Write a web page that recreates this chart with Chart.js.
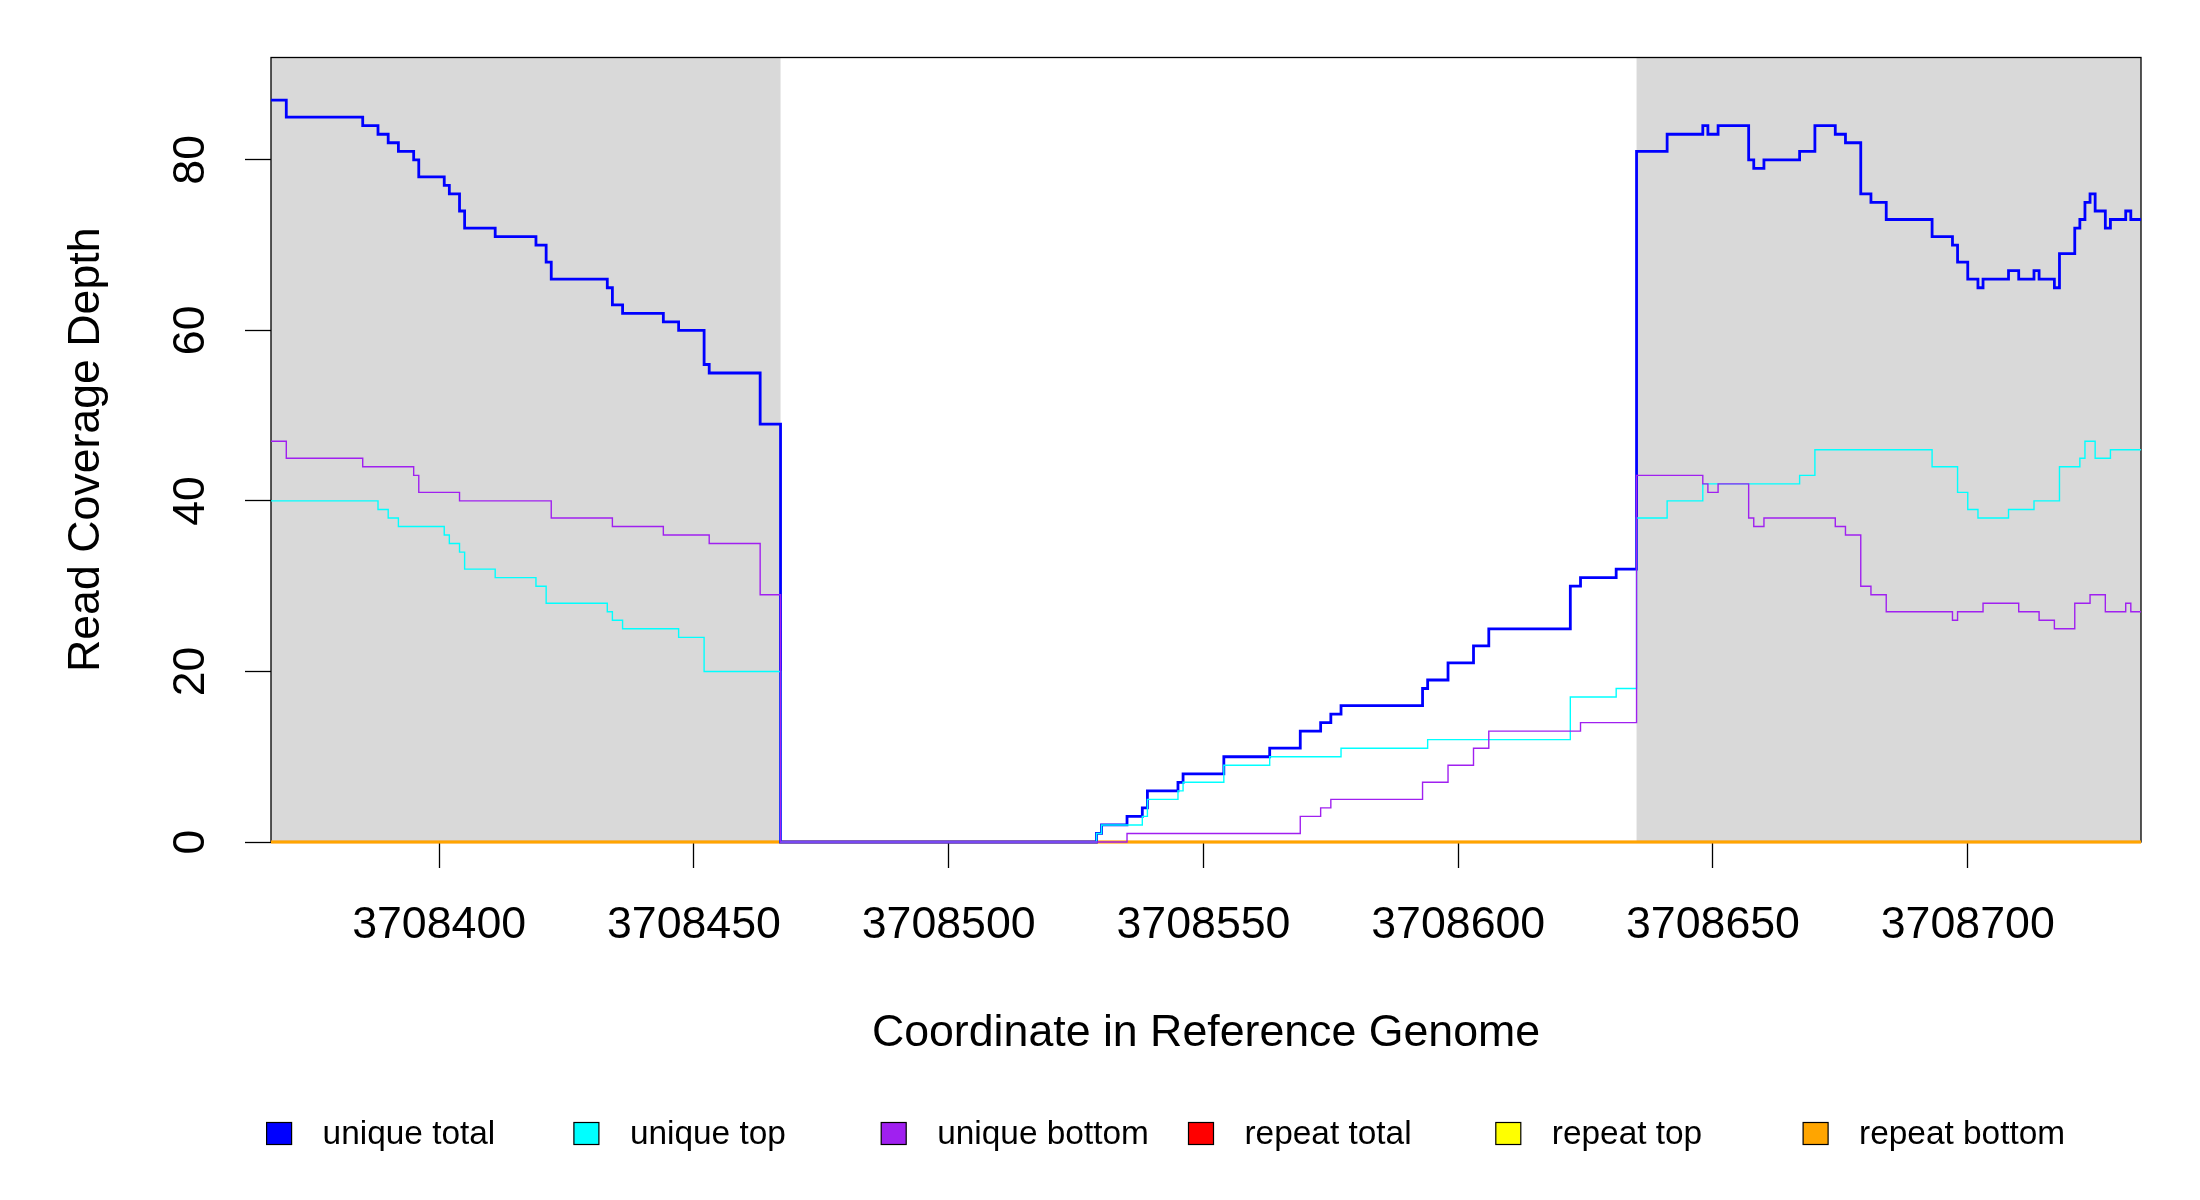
<!DOCTYPE html>
<html>
<head>
<meta charset="utf-8">
<script src="https://cdn.jsdelivr.net/npm/chart.js@4.4.1/dist/chart.umd.min.js"></script>
<style>
html,body{margin:0;padding:0;background:#fff;overflow:hidden}
#wrap{width:2200px;height:1200px;position:relative}
</style>
</head>
<body>
<div id="wrap"><canvas id="c"></canvas></div>
<script>
// ---- data (step breakpoints: value holds from position until next position) ----
const seriesLabels = ['unique total', 'unique top', 'unique bottom', 'repeat total', 'repeat top', 'repeat bottom'];

const uniqueTotalPos = [3708367,3708370,3708385,3708388,3708390,3708392,3708395,3708396,3708401,3708402,
  3708404,3708405,3708411,3708419,3708421,3708422,3708433,3708434,3708436,3708444,
  3708447,3708452,3708453,3708463,3708467,
  3708529,3708530,3708535,3708538,3708539,3708545,3708546,3708554,3708563,3708569,
  3708573,3708575,3708577,3708593,3708594,3708598,3708603,3708606,3708622,3708624,3708631,
  3708635,3708641,3708648,3708649,3708651,3708657,3708658,3708660,3708667,3708670,
  3708674,3708676,3708679,3708681,3708684,3708693,3708697,3708698,3708700,3708702,
  3708703,3708708,3708710,3708713,3708714,3708717,3708718,3708721,3708722,3708723,
  3708724,3708725,3708727,3708728,3708731,3708732,3708734];
const uniqueTotalVal = [87,85,84,83,82,81,80,78,77,76,
  74,72,71,70,68,66,65,63,62,61,
  60,56,55,49,0,
  1,2,3,4,6,7,8,10,11,13,
  14,15,16,18,19,21,23,25,30,31,32,
  81,83,84,83,84,80,79,80,81,84,
  83,82,76,75,73,71,70,68,66,65,
  66,67,66,67,66,65,69,72,73,75,
  76,74,72,73,74,73,73];

const uniqueTopPos = [3708367,3708388,3708390,3708392,3708401,3708402,3708404,3708405,3708411,3708419,
  3708421,3708433,3708434,3708436,3708447,3708452,3708467,
  3708529,3708530,3708538,3708539,3708545,3708546,3708554,3708563,3708577,3708594,
  3708622,3708631,
  3708635,3708641,3708648,3708667,3708670,3708693,3708698,3708700,3708702,3708708,
  3708713,3708718,3708722,3708723,3708725,3708728,3708734];
const uniqueTopVal = [40,39,38,37,36,35,34,32,31,30,
  28,27,26,25,24,20,0,
  1,2,3,5,6,7,9,10,11,12,
  17,18,
  38,40,42,43,46,44,41,39,38,39,
  40,44,45,47,45,46,46];

const uniqueBottomPos = [3708367,3708370,3708385,3708395,3708396,3708404,3708422,3708434,3708444,3708453,
  3708463,3708467,
  3708535,3708569,3708573,3708575,3708593,3708598,3708603,3708606,3708624,
  3708635,3708648,3708649,3708651,3708657,3708658,3708660,3708674,3708676,3708679,
  3708681,3708684,3708697,3708698,3708703,3708710,3708714,3708717,3708721,3708724,
  3708727,3708731,3708732,3708734];
const uniqueBottomVal = [47,45,44,43,41,40,38,37,36,35,
  29,0,
  1,3,4,5,7,9,11,13,14,
  43,42,41,42,38,37,38,37,36,30,
  29,27,26,27,28,27,26,25,28,29,
  27,28,27,27];

const repeatTotalPos = [3708367, 3708734];
const repeatTotalVal = [0, 0];
const repeatTopPos = [3708367, 3708734];
const repeatTopVal = [0, 0];
const repeatBottomPos = [3708367, 3708734];
const repeatBottomVal = [0, 0];

const shadedRegions = [[3708367, 3708467], [3708635, 3708734]];
const xRange = [3708367, 3708734];
const yRange = [0, 92];
const xTickValues = [3708400, 3708450, 3708500, 3708550, 3708600, 3708650, 3708700];
const yTickValues = [0, 20, 40, 60, 80];

// ---- chart ----
const FONT = '"Liberation Sans", Arial, Helvetica, sans-serif';
Chart.defaults.font.family = FONT;
Chart.defaults.color = '#000';

function pts(pos, val) { return pos.map((p, i) => ({x: p, y: val[i]})); }

function ds(label, data, color, width, order) {
  return {label, data, borderColor: color, backgroundColor: color, borderWidth: width,
    stepped: true, pointRadius: 0, pointHoverRadius: 0, fill: false, tension: 0, order, clip: 4};
}

const datasets = [
  ds(seriesLabels[0], pts(uniqueTotalPos, uniqueTotalVal), '#0000FF', 2.8, 2),
  ds(seriesLabels[1], pts(uniqueTopPos, uniqueTopVal), '#00FFFF', 1.4, 1),
  ds(seriesLabels[2], pts(uniqueBottomPos, uniqueBottomVal), '#A020F0', 1.4, 0),
  ds(seriesLabels[3], pts(repeatTotalPos, repeatTotalVal), '#FF0000', 2.6, 5),
  ds(seriesLabels[4], pts(repeatTopPos, repeatTopVal), '#FFFF00', 2.6, 4),
  ds(seriesLabels[5], pts(repeatBottomPos, repeatBottomVal), '#FFA500', 2.6, 3)
];

const shadePlugin = {
  id: 'shade',
  beforeDatasetsDraw(chart) {
    const {ctx, chartArea: a, scales: {x}} = chart;
    ctx.save();
    ctx.fillStyle = '#D9D9D9';
    shadedRegions.forEach(([s, e]) => {
      const x0 = x.getPixelForValue(s), x1 = x.getPixelForValue(e);
      ctx.fillRect(x0, a.top, x1 - x0, a.bottom - a.top);
    });
    ctx.strokeStyle = '#000';
    ctx.lineWidth = 1.3;
    ctx.strokeRect(a.left, a.top, a.right - a.left, a.bottom - a.top);
    ctx.restore();
  }
};

const legendPlugin = {
  id: 'rlegend',
  afterDraw(chart, args, opts) {
    const {ctx} = chart;
    ctx.save();
    ctx.font = opts.fontSize + 'px ' + FONT;
    ctx.textBaseline = 'middle';
    ctx.textAlign = 'left';
    chart.data.datasets.forEach((d, i) => {
      const bx = opts.left + i * opts.step;
      ctx.fillStyle = d.borderColor;
      ctx.fillRect(bx, opts.y - opts.boxH / 2, opts.boxW, opts.boxH);
      ctx.strokeStyle = '#000';
      ctx.lineWidth = 1.2;
      ctx.strokeRect(bx, opts.y - opts.boxH / 2, opts.boxW, opts.boxH);
      ctx.fillStyle = '#000';
      ctx.fillText(d.label, bx + opts.textOffset, opts.y + 1);
    });
    ctx.restore();
  }
};

new Chart(document.getElementById('c'), {
  type: 'line',
  data: {datasets},
  plugins: [shadePlugin, legendPlugin],
  options: {
    responsive: true,
    maintainAspectRatio: false,
    animation: false,
    events: [],
    layout: {padding: {left: 0, right: 59, top: 57.5, bottom: 0}},
    plugins: {
      legend: {display: false},
      tooltip: {enabled: false},
      rlegend: {left: 266.6, step: 307.3, y: 1133.5, boxW: 25, boxH: 22, textOffset: 56, fontSize: 33.4}
    },
    scales: {
      x: {
        type: 'linear',
        min: xRange[0], max: xRange[1],
        afterBuildTicks: s => { s.ticks = xTickValues.map(v => ({value: v})); },
        afterFit: s => { s.height = 1200 - 842; },
        border: {display: false},
        grid: {drawOnChartArea: false, drawTicks: true, tickLength: 26, tickColor: '#000', tickWidth: 1.3},
        ticks: {font: {size: 44.7}, color: '#000', padding: 30.5, maxRotation: 0, autoSkip: false,
                callback: v => String(v)},
        title: {display: true, text: 'Coordinate in Reference Genome', color: '#000',
                font: {size: 44.7, lineHeight: 1.2}, padding: {top: 0, bottom: 139.2}}
      },
      y: {
        type: 'linear',
        min: yRange[0], max: yRange[1],
        afterBuildTicks: s => { s.ticks = yTickValues.map(v => ({value: v})); },
        afterFit: s => { s.width = 271; },
        border: {display: false},
        grid: {drawOnChartArea: false, drawTicks: true, tickLength: 26, tickColor: '#000', tickWidth: 1.3},
        ticks: {font: {size: 44.7}, color: '#000', padding: 28, minRotation: 90, maxRotation: 90,
                crossAlign: 'center', autoSkip: false, callback: v => String(v)},
        title: {display: true, text: 'Read Coverage Depth', color: '#000',
                font: {size: 44.7, lineHeight: 1.2}, padding: {top: 60.2, bottom: 0}}
      }
    }
  }
});
</script>
</body>
</html>
